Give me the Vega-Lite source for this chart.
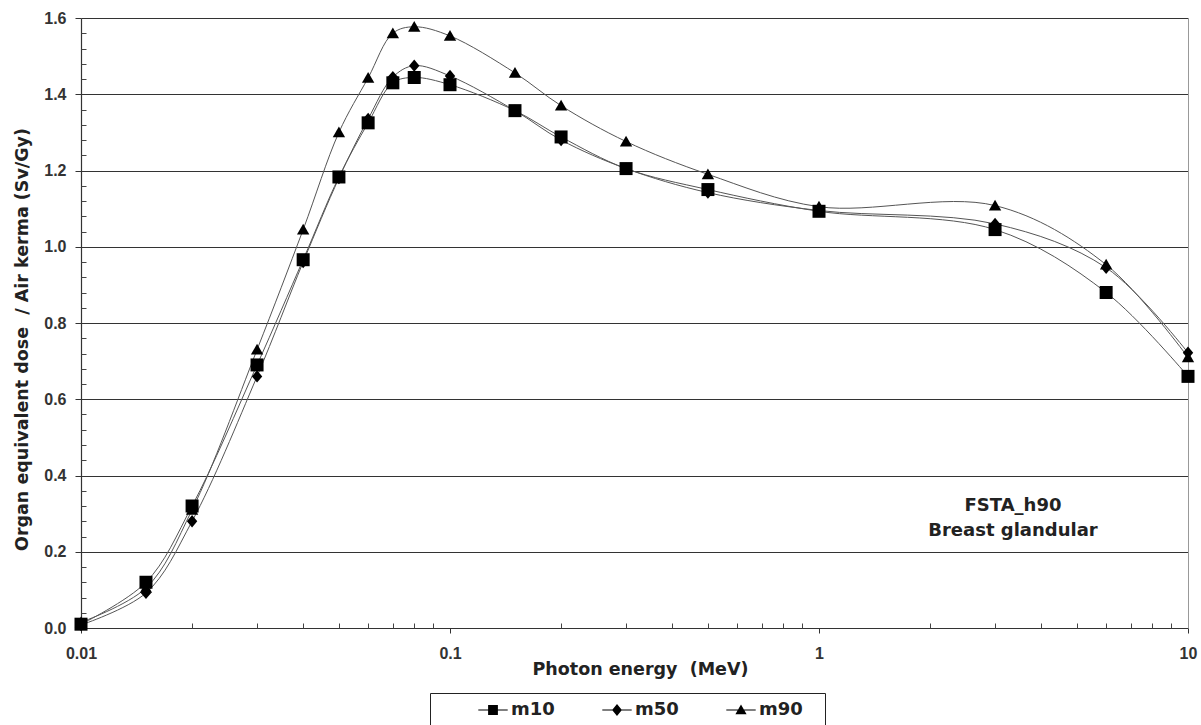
{
  "$schema": "https://vega.github.io/schema/vega-lite/v6.json",
  "width": 1107,
  "height": 610,
  "autosize": {"type": "none"},
  "padding": {"left": 81, "top": 18, "right": 13, "bottom": 97},
  "background": "white",
  "config": {"view": {"stroke": null}},
  "data": {
    "values": [
      {"E": 0.01, "series": "m90", "value": 0.015},
      {"E": 0.015, "series": "m90", "value": 0.105},
      {"E": 0.02, "series": "m90", "value": 0.31},
      {"E": 0.03, "series": "m90", "value": 0.73},
      {"E": 0.04, "series": "m90", "value": 1.045},
      {"E": 0.05, "series": "m90", "value": 1.30},
      {"E": 0.06, "series": "m90", "value": 1.443},
      {"E": 0.07, "series": "m90", "value": 1.56},
      {"E": 0.08, "series": "m90", "value": 1.577},
      {"E": 0.1, "series": "m90", "value": 1.553},
      {"E": 0.15, "series": "m90", "value": 1.456},
      {"E": 0.2, "series": "m90", "value": 1.37},
      {"E": 0.3, "series": "m90", "value": 1.276},
      {"E": 0.5, "series": "m90", "value": 1.19},
      {"E": 1, "series": "m90", "value": 1.105},
      {"E": 3, "series": "m90", "value": 1.108},
      {"E": 6, "series": "m90", "value": 0.953},
      {"E": 10, "series": "m90", "value": 0.71},
      {"E": 0.01, "series": "m50", "value": 0.008},
      {"E": 0.015, "series": "m50", "value": 0.092},
      {"E": 0.02, "series": "m50", "value": 0.28},
      {"E": 0.03, "series": "m50", "value": 0.66},
      {"E": 0.04, "series": "m50", "value": 0.96},
      {"E": 0.05, "series": "m50", "value": 1.18},
      {"E": 0.06, "series": "m50", "value": 1.335},
      {"E": 0.07, "series": "m50", "value": 1.445},
      {"E": 0.08, "series": "m50", "value": 1.475},
      {"E": 0.1, "series": "m50", "value": 1.448},
      {"E": 0.15, "series": "m50", "value": 1.357},
      {"E": 0.2, "series": "m50", "value": 1.28},
      {"E": 0.3, "series": "m50", "value": 1.205},
      {"E": 0.5, "series": "m50", "value": 1.142},
      {"E": 1, "series": "m50", "value": 1.095},
      {"E": 3, "series": "m50", "value": 1.06},
      {"E": 6, "series": "m50", "value": 0.945},
      {"E": 10, "series": "m50", "value": 0.722},
      {"E": 0.01, "series": "m10", "value": 0.01},
      {"E": 0.015, "series": "m10", "value": 0.12},
      {"E": 0.02, "series": "m10", "value": 0.32},
      {"E": 0.03, "series": "m10", "value": 0.69},
      {"E": 0.04, "series": "m10", "value": 0.966},
      {"E": 0.05, "series": "m10", "value": 1.183},
      {"E": 0.06, "series": "m10", "value": 1.325},
      {"E": 0.07, "series": "m10", "value": 1.43},
      {"E": 0.08, "series": "m10", "value": 1.444},
      {"E": 0.1, "series": "m10", "value": 1.425},
      {"E": 0.15, "series": "m10", "value": 1.357},
      {"E": 0.2, "series": "m10", "value": 1.288},
      {"E": 0.3, "series": "m10", "value": 1.205},
      {"E": 0.5, "series": "m10", "value": 1.15},
      {"E": 1, "series": "m10", "value": 1.093},
      {"E": 3, "series": "m10", "value": 1.045},
      {"E": 6, "series": "m10", "value": 0.88},
      {"E": 10, "series": "m10", "value": 0.66}
    ]
  },
  "resolve": {"axis": {"x": "independent", "y": "independent"}, "scale": {"shape": "independent"}},
  "layer": [
    {
      "mark": {"type": "line", "interpolate": "catmull-rom", "color": "#555555", "strokeWidth": 1},
      "encoding": {
        "x": {
          "field": "E", "type": "quantitative",
          "scale": {"type": "log", "domain": [0.01, 10], "nice": false},
          "axis": {
            "orient": "bottom",
            "values": [0.01, 0.1, 1, 10],
            "format": "~g",
            "grid": false,
            "domainColor": "#333", "domainWidth": 1.2,
            "tickColor": "#333", "tickSize": 5, "tickWidth": 1,
            "labelFont": "Liberation Sans", "labelFontWeight": "bold", "labelFontSize": 16, "labelColor": "#333",
            "labelPadding": 12, "labelFlush": false,
            "title": "Photon energy\u00a0 (MeV)",
            "titleFont": "DejaVu Sans", "titleFontWeight": "bold", "titleFontSize": 17.5, "titleColor": "#222",
            "titleBaseline": "alphabetic", "titleY": 46, "titleX": 559
          }
        },
        "y": {
          "field": "value", "type": "quantitative",
          "scale": {"domain": [0, 1.6], "nice": false},
          "axis": {
            "orient": "left",
            "values": [0, 0.2, 0.4, 0.6, 0.8, 1.0, 1.2, 1.4, 1.6],
            "format": ".1f",
            "grid": true, "gridColor": "#333", "gridWidth": 1.2,
            "domainColor": "#333", "domainWidth": 1.2,
            "tickColor": "#333", "tickSize": 6, "tickWidth": 1,
            "labelFont": "Liberation Sans", "labelFontWeight": "bold", "labelFontSize": 16, "labelColor": "#333",
            "labelPadding": 9,
            "title": "Organ equivalent dose\u00a0 / Air kerma (Sv/Gy)",
            "titleFont": "DejaVu Sans", "titleFontWeight": "bold", "titleFontSize": 17.5, "titleColor": "#222",
            "titleX": -59, "titleY": 321, "titleBaseline": "middle"
          }
        },
        "detail": {"field": "series", "type": "nominal"}
      }
    },
    {
      "mark": {"type": "point", "filled": true, "color": "black", "opacity": 1, "size": 169},
      "encoding": {
        "x": {
          "field": "E", "type": "quantitative",
          "scale": {"type": "log", "domain": [0.01, 10], "nice": false},
          "axis": {
            "orient": "bottom",
            "values": [0.02, 0.03, 0.04, 0.05, 0.06, 0.07, 0.08, 0.09, 0.2, 0.3, 0.4, 0.5, 0.6, 0.7, 0.8, 0.9, 2, 3, 4, 5, 6, 7, 8, 9],
            "labels": false, "domain": false, "grid": false,
            "tickColor": "#444", "tickSize": -5, "tickWidth": 1,
            "title": null
          }
        },
        "y": {
          "field": "value", "type": "quantitative",
          "scale": {"domain": [0, 1.6], "nice": false},
          "axis": {
            "orient": "left",
            "values": [0.04, 0.08, 0.12, 0.16, 0.24, 0.28, 0.32, 0.36, 0.44, 0.48, 0.52, 0.56, 0.64, 0.68, 0.72, 0.76, 0.84, 0.88, 0.92, 0.96, 1.04, 1.08, 1.12, 1.16, 1.24, 1.28, 1.32, 1.36, 1.44, 1.48, 1.52, 1.56],
            "labels": false, "domain": false, "grid": false,
            "tickColor": "#444", "tickSize": -5, "tickWidth": 1,
            "title": null
          }
        },
        "shape": {
          "field": "series", "type": "nominal",
          "scale": {"domain": ["m10", "m50", "m90"], "range": ["M-1,-1H1V1H-1Z", "M0,-0.95L0.8,0L0,0.95L-0.8,0Z", "M0,-0.9L0.95,0.75H-0.95Z"]},
          "legend": null
        }
      }
    },
    {
      "transform": [{"filter": "datum.E > 100"}],
      "mark": {"type": "point", "filled": true, "color": "black", "opacity": 1, "size": 196},
      "encoding": {
        "x": {"field": "E", "type": "quantitative", "scale": {"type": "log", "domain": [0.01, 10], "nice": false}, "axis": null},
        "y": {"field": "value", "type": "quantitative", "scale": {"domain": [0, 1.6], "nice": false}, "axis": null},
        "shape": {
          "field": "series", "type": "nominal",
          "scale": {"domain": ["m10", "m50", "m90"], "range": [
            "M-2.1,-0.08H2.1V0.08H-2.1ZM-0.7,-0.7H0.7V0.7H-0.7Z",
            "M-2.1,-0.08H2.1V0.08H-2.1ZM0,-0.85L0.7,0L0,0.85L-0.7,0Z",
            "M-2.1,-0.08H2.1V0.08H-2.1ZM0,-0.8L0.8,0.6H-0.8Z"
          ]},
          "legend": {
            "orient": "none", "legendX": 349, "legendY": 675,
            "direction": "horizontal",
            "title": "xxx",
            "titleOrient": "left", "titleFont": "DejaVu Sans", "titleFontWeight": "bold", "titleFontSize": 18, "titlePadding": 11, "titleOpacity": 0,
            "strokeColor": "#222", "padding": 8, "columnPadding": 44,
            "labelFont": "DejaVu Sans", "labelFontWeight": "bold", "labelFontSize": 18, "labelColor": "#222",
            "labelOffset": 9,
            "labelExpr": "datum.label == 'm90' ? 'm90\u2800' : datum.label",
            "symbolSize": 196,
            "symbolFillColor": "black",
            "symbolOpacity": 1
          }
        }
      }
    },
    {
      "data": {"values": [{"E": 3.355, "value": 0.319, "label": "FSTA_h90\nBreast glandular"}]},
      "mark": {"type": "text", "font": "DejaVu Sans", "fontWeight": "bold", "fontSize": 18, "lineHeight": 25, "lineBreak": "\n", "color": "#222", "align": "center", "baseline": "middle"},
      "encoding": {
        "x": {"field": "E", "type": "quantitative", "scale": {"type": "log", "domain": [0.01, 10], "nice": false}, "axis": null},
        "y": {
          "field": "value", "type": "quantitative",
          "scale": {"domain": [0, 1.6], "nice": false},
          "axis": {"orient": "right", "labels": false, "ticks": false, "grid": false, "domainColor": "#999", "domainWidth": 1, "title": null}
        },
        "text": {"field": "label", "type": "nominal"}
      }
    }
  ]
}
